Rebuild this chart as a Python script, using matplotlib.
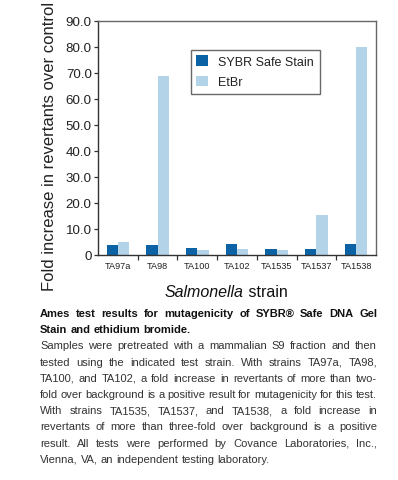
import matplotlib
matplotlib.use("Agg")
import matplotlib.pyplot as plt
import numpy as np

# ---------------- data ----------------
strains = ["TA97a", "TA98", "TA100", "TA102", "TA1535", "TA1537", "TA1538"]
sybr_safe = [3.7, 3.7, 2.6, 4.4, 2.4, 2.4, 4.4]
etbr = [5.0, 69.0, 1.9, 2.3, 1.8, 15.5, 80.0]
yticks = [0, 10, 20, 30, 40, 50, 60, 70, 80, 90]
ytick_labels = ["0", "10.0", "20.0", "30.0", "40.0", "50.0", "60.0", "70.0", "80.0", "90.0"]
series_labels = ["SYBR Safe Stain", "EtBr"]
ylabel = "Fold increase in revertants over control"

caption_bold = [
    ("Ames test results for mutagenicity of SYBR® Safe DNA Gel", True),
    ("Stain and ethidium bromide.", False),
]
caption_body = [
    ("Samples were pretreated with a mammalian S9 fraction and then", True),
    ("tested using the indicated test strain. With strains TA97a, TA98,", True),
    ("TA100, and TA102, a fold increase in revertants of more than two-", True),
    ("fold over background is a positive result for mutagenicity for this test.", True),
    ("With strains TA1535, TA1537, and TA1538, a fold increase in", True),
    ("revertants of more than three-fold over background is a positive", True),
    ("result. All tests were performed by Covance Laboratories, Inc.,", True),
    ("Vienna, VA, an independent testing laboratory.", False),
]

# ---------------- figure ----------------
W, H = 398, 481
plt.rcParams['font.family'] = ['Liberation Sans', 'DejaVu Sans']
fig = plt.figure(figsize=(W / 100, H / 100), dpi=100)
fig.patch.set_facecolor("white")

def fx(px):
    return px / W

def fy(py):
    return 1 - py / H

ax = fig.add_axes([fx(98), fy(256), fx(376) - fx(98), fy(22) - fy(256)])

dark = "#0b63a5"
light = "#b3d3e8"
x = np.arange(len(strains))
bw = 0.285
ax.bar(x - bw / 2, sybr_safe, width=bw, color=dark, label=series_labels[0], zorder=2)
ax.bar(x + bw / 2, etbr, width=bw, color=light, label=series_labels[1], zorder=2)

ax.set_xlim(-0.5, len(strains) - 0.5)
ax.set_ylim(0, 90)
ax.set_yticks(yticks)
ax.set_yticklabels(ytick_labels, fontsize=9.6, color="#222222")
ax.tick_params(axis="y", direction="out", length=3, width=0.9, pad=1.5, color="#333333")

ax.set_xticks(x)
ax.set_xticklabels(strains, fontsize=6.6, color="#222222")
ax.tick_params(axis="x", which="major", length=0, pad=4.5)
ax.set_xticks(np.arange(0.5, len(strains) - 0.5, 1.0), minor=True)
ax.tick_params(axis="x", which="minor", direction="out", length=3.8, width=0.9, color="#333333")

for side in ["left", "bottom"]:
    ax.spines[side].set_color("#333333")
    ax.spines[side].set_linewidth(1.0)
for side in ["top", "right"]:
    ax.spines[side].set_color("#666666")
    ax.spines[side].set_linewidth(1.0)

leg = ax.legend(loc="upper left", bbox_to_anchor=(fx(190.7), fy(50.7)),
                bbox_transform=fig.transFigure, borderaxespad=0,
                fontsize=9, frameon=True, fancybox=False,
                handlelength=0.9, handleheight=0.9, handletextpad=0.85,
                borderpad=0.45, labelspacing=0.65)
leg.get_frame().set_edgecolor("#444444")
leg.get_frame().set_linewidth(1.0)
for t in leg.get_texts():
    t.set_color("#222222")

# y label
fig.text(fx(50), fy(146), ylabel, rotation=90, fontsize=12,
         ha="center", va="center", color="#222222")

# x label (italic + normal)
xl1 = fig.text(0, fy(293), "Salmonella", fontsize=11.5, style="italic",
               ha="left", va="center", color="#111111")
xl2 = fig.text(0, fy(293), " strain", fontsize=11.5,
               ha="left", va="center", color="#111111")

fig.canvas.draw()
renderer = fig.canvas.get_renderer()
w1 = xl1.get_window_extent(renderer).width
w2 = xl2.get_window_extent(renderer).width
start = 226 - (w1 + w2) / 2
xl1.set_x(fx(start))
xl2.set_x(fx(start + w1))

# justified caption
LEFT, RIGHT = 40, 377

def draw_line(text, y_px, weight, justify, color):
    words = text.split(" ")
    objs = [fig.text(0, fy(y_px), w, fontsize=8, fontweight=weight,
                     ha="left", va="center", color=color) for w in words]
    widths = [o.get_window_extent(renderer).width for o in objs]
    if justify and len(words) > 1:
        gap = (RIGHT - LEFT - sum(widths)) / (len(words) - 1)
    else:
        sp = fig.text(0, 0, "a a", fontsize=8, fontweight=weight)
        sp2 = fig.text(0, 0, "aa", fontsize=8, fontweight=weight)
        gap = sp.get_window_extent(renderer).width - sp2.get_window_extent(renderer).width
        sp.remove(); sp2.remove()
    pos = LEFT
    for o, w in zip(objs, widths):
        o.set_x(fx(pos))
        pos += w + gap

y0 = 314
dy = 16.2
row = 0
for text, just in caption_bold:
    draw_line(text, y0 + row * dy, "bold", just, "#111111")
    row += 1
for text, just in caption_body:
    draw_line(text, y0 + row * dy, "normal", just, "#333333")
    row += 1

fig.savefig("out.png", dpi=100, facecolor="white")
